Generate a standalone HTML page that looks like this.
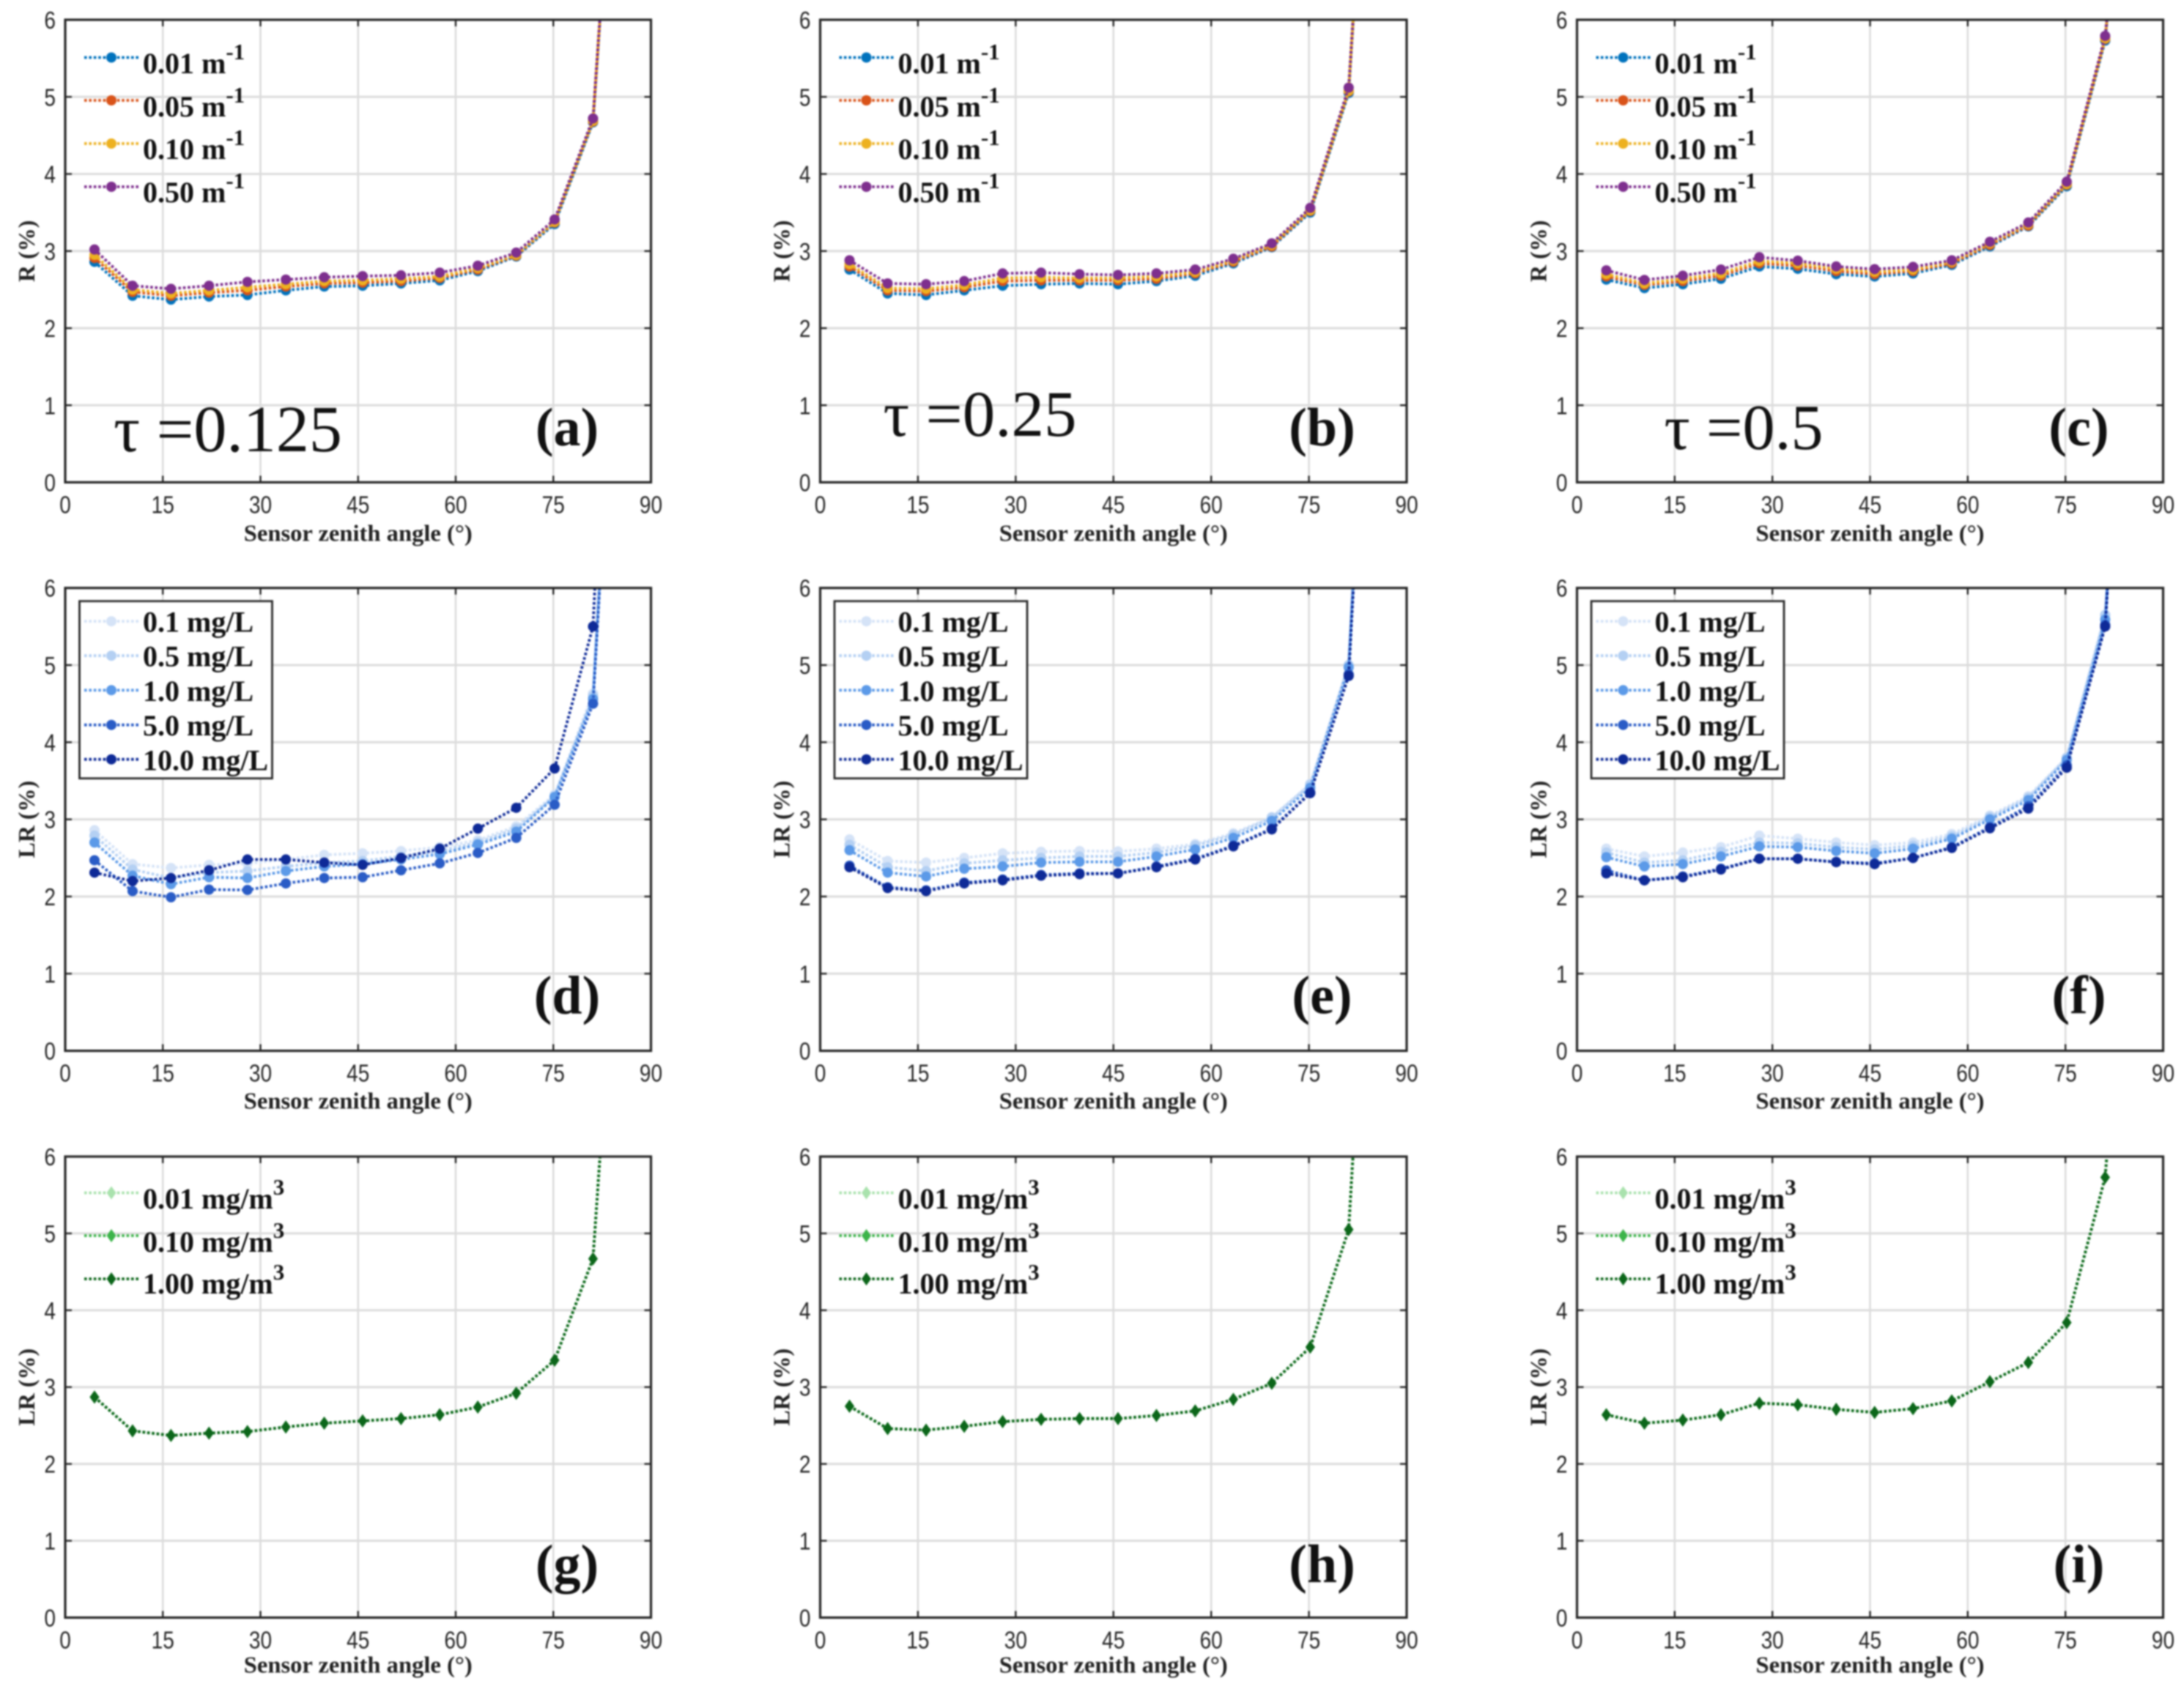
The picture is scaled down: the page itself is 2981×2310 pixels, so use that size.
<!DOCTYPE html>
<html lang="en">
<head>
<meta charset="utf-8">
<title>Sensor zenith angle reflectance panels</title>
<style>
  html, body { margin: 0; padding: 0; background: #fff; }
  body { width: 2981px; height: 2310px; overflow: hidden; }
  #figure { display: block; filter: blur(1px); }
</style>
</head>
<body>
<svg id="figure" xmlns="http://www.w3.org/2000/svg" width="2981" height="2310" viewBox="0 0 2981 2310"></svg>
<script>
const angles = [4.5,10.35,16.25,22.1,28,33.9,39.8,45.7,51.6,57.55,63.4,69.3,75.2,81.1,87];
const xTickValues = [0,15,30,45,60,75,90];
const yTickValues = [0,1,2,3,4,5,6];

const a001 = [2.86,2.42,2.37,2.41,2.43,2.49,2.54,2.55,2.58,2.62,2.74,2.93,3.35,4.67,12];
const a005 = [2.91,2.47,2.42,2.46,2.49,2.54,2.58,2.59,2.61,2.65,2.76,2.94,3.37,4.68,12];
const a010 = [2.95,2.50,2.45,2.49,2.53,2.57,2.61,2.62,2.64,2.67,2.78,2.95,3.38,4.69,12];
const a050 = [3.02,2.55,2.51,2.55,2.60,2.63,2.66,2.675,2.685,2.72,2.81,2.98,3.41,4.72,12];

const b001 = [2.76,2.45,2.43,2.49,2.55,2.57,2.58,2.57,2.61,2.68,2.84,3.05,3.50,5.05,13];
const b005 = [2.80,2.49,2.48,2.53,2.61,2.62,2.62,2.62,2.64,2.71,2.86,3.06,3.52,5.07,13];
const b010 = [2.83,2.52,2.51,2.56,2.65,2.66,2.65,2.65,2.67,2.73,2.88,3.08,3.53,5.08,13];
const b050 = [2.88,2.58,2.57,2.61,2.71,2.72,2.70,2.69,2.71,2.76,2.90,3.10,3.56,5.12,13];

const c001 = [2.63,2.52,2.57,2.64,2.80,2.77,2.70,2.67,2.71,2.82,3.06,3.32,3.84,5.73,11];
const c005 = [2.67,2.56,2.61,2.68,2.84,2.81,2.74,2.70,2.74,2.84,3.08,3.33,3.86,5.75,11];
const c010 = [2.70,2.58,2.64,2.71,2.87,2.84,2.77,2.73,2.76,2.86,3.10,3.35,3.87,5.76,11];
const c050 = [2.75,2.625,2.68,2.76,2.92,2.875,2.80,2.765,2.795,2.88,3.12,3.37,3.90,5.79,11];

const d01 = [2.86,2.42,2.37,2.41,2.43,2.48,2.54,2.56,2.59,2.64,2.73,2.91,3.32,4.63,13.4];
const d05 = [2.79,2.35,2.24,2.31,2.33,2.39,2.44,2.46,2.52,2.59,2.70,2.88,3.30,4.60,13.4];
const d1 = [2.70,2.27,2.16,2.25,2.24,2.33,2.39,2.42,2.48,2.55,2.675,2.84,3.29,4.56,13.3];
const d5 = [2.47,2.07,1.99,2.09,2.085,2.17,2.24,2.25,2.34,2.43,2.565,2.76,3.19,4.50,13.2];
const d10 = [2.31,2.20,2.24,2.34,2.48,2.48,2.44,2.41,2.50,2.62,2.88,3.15,3.66,5.50,16];

const e01 = [2.74,2.46,2.44,2.50,2.56,2.58,2.59,2.585,2.62,2.68,2.82,3.03,3.46,5.00,14.4];
const e05 = [2.67,2.38,2.33,2.43,2.47,2.50,2.52,2.52,2.57,2.66,2.80,3.02,3.45,5.00,14.4];
const e1 = [2.60,2.31,2.26,2.36,2.39,2.44,2.45,2.45,2.52,2.61,2.76,2.98,3.41,4.97,14.4];
const e5 = [2.40,2.12,2.08,2.18,2.22,2.28,2.30,2.30,2.39,2.49,2.66,2.88,3.35,4.88,14.3];
const e10 = [2.38,2.11,2.07,2.17,2.21,2.27,2.29,2.30,2.38,2.48,2.65,2.87,3.34,4.86,14.2];

const f01 = [2.62,2.52,2.57,2.64,2.79,2.75,2.70,2.665,2.70,2.81,3.05,3.30,3.80,5.65,13.7];
const f05 = [2.57,2.44,2.47,2.58,2.70,2.69,2.64,2.61,2.66,2.78,3.03,3.28,3.80,5.65,13.7];
const f1 = [2.51,2.39,2.42,2.52,2.65,2.64,2.59,2.56,2.62,2.75,3.00,3.25,3.77,5.59,13.7];
const f5 = [2.34,2.21,2.26,2.36,2.49,2.49,2.45,2.43,2.50,2.64,2.90,3.17,3.70,5.52,13.6];
const f10 = [2.30,2.21,2.25,2.35,2.49,2.49,2.445,2.42,2.50,2.63,2.885,3.14,3.67,5.50,13.6];

const g001 = [2.87,2.43,2.37,2.40,2.42,2.48,2.53,2.56,2.59,2.64,2.74,2.92,3.35,4.67,12];
const g010 = [2.87,2.43,2.37,2.40,2.42,2.48,2.53,2.56,2.59,2.64,2.74,2.92,3.35,4.67,12];
const g100 = [2.87,2.43,2.37,2.40,2.42,2.48,2.53,2.56,2.59,2.64,2.74,2.92,3.35,4.67,12];

const h001 = [2.75,2.46,2.44,2.49,2.55,2.58,2.59,2.59,2.63,2.69,2.84,3.05,3.52,5.05,13.6];
const h010 = [2.75,2.46,2.44,2.49,2.55,2.58,2.59,2.59,2.63,2.69,2.84,3.05,3.52,5.05,13.6];
const h100 = [2.75,2.46,2.44,2.49,2.55,2.58,2.59,2.59,2.63,2.69,2.84,3.05,3.52,5.05,13.6];

const i001 = [2.64,2.53,2.57,2.64,2.79,2.77,2.71,2.67,2.72,2.82,3.07,3.32,3.84,5.73,12.2];
const i010 = [2.64,2.53,2.57,2.64,2.79,2.77,2.71,2.67,2.72,2.82,3.07,3.32,3.84,5.73,12.2];
const i100 = [2.64,2.53,2.57,2.64,2.79,2.77,2.71,2.67,2.72,2.82,3.07,3.32,3.84,5.73,12.2];

const attenuationLabels = ['0.01 m','0.05 m','0.10 m','0.50 m'];
const sedimentLabels = ['0.1 mg/L','0.5 mg/L','1.0 mg/L','5.0 mg/L','10.0 mg/L'];
const chlorophyllLabels = ['0.01 mg/m','0.10 mg/m','1.00 mg/m'];
const attenuationColors = ['#0072bd','#d95319','#edb120','#7e2f8e'];
const sedimentColors = ['#d5e3f7','#b4d0f3','#5c9ae8','#2a5cc6','#0e2a97'];
const chlorophyllColors = ['#a9e2ad','#3cb44a','#0c661a'];

const colLeft = [89,1119.5,2152.5];
const colRight = [888.5,1920,2952.5];
const rowTop = [27,802.7,1579];
const rowBottom = [658.5,1434.6,2208.4];
const xTitleOffset = [80,79,75];

const panels = [
  {id:'a',col:0,row:0,yTitle:'R (%)',series:[a001,a005,a010,a050],tau:'τ =0.125',tauX:66,tauY:589,tauSize:90},
  {id:'b',col:1,row:0,yTitle:'R (%)',series:[b001,b005,b010,b050],tau:'τ =0.25',tauX:86,tauY:568,tauSize:89},
  {id:'c',col:2,row:0,yTitle:'R (%)',series:[c001,c005,c010,c050],tau:'τ =0.5',tauX:119,tauY:586,tauSize:88},
  {id:'d',col:0,row:1,yTitle:'LR (%)',series:[d01,d05,d1,d5,d10]},
  {id:'e',col:1,row:1,yTitle:'LR (%)',series:[e01,e05,e1,e5,e10]},
  {id:'f',col:2,row:1,yTitle:'LR (%)',series:[f01,f05,f1,f5,f10]},
  {id:'g',col:0,row:2,yTitle:'LR (%)',series:[g001,g010,g100]},
  {id:'h',col:1,row:2,yTitle:'LR (%)',series:[h001,h010,h100]},
  {id:'i',col:2,row:2,yTitle:'LR (%)',series:[i001,i010,i100]}
];

const NS = 'http://www.w3.org/2000/svg';
const SANS = '"Liberation Sans", Arial, sans-serif';
const SERIF = '"Liberation Serif", "Times New Roman", serif';
const root = document.getElementById('figure');

function mk(tag, attrs, parent) {
  const el = document.createElementNS(NS, tag);
  for (const k in attrs) el.setAttribute(k, attrs[k]);
  parent.appendChild(el);
  return el;
}

function drawMarker(group, cx, cy, color, diamond) {
  let el;
  if (diamond) {
    el = mk('polygon', {points:(cx-6.5)+','+cy+' '+cx+','+(cy-9)+' '+(cx+6.5)+','+cy+' '+cx+','+(cy+9), fill:color}, group);
  } else {
    el = mk('circle', {cx:cx, cy:cy, r:7, fill:color}, group);
  }
  
  
}

function drawPanel(p) {
  const L = colLeft[p.col], R = colRight[p.col], T = rowTop[p.row], B = rowBottom[p.row];
  const sx = v => L + (v / 90) * (R - L);
  const sy = v => B - (v / 6) * (B - T);
  const g = mk('g', {}, root);
  
  

  const clip = mk('clipPath', {id:'clip-' + p.id}, g);
  mk('rect', {x:L, y:T, width:R-L, height:B-T}, clip);

  xTickValues.forEach(v => {
    if (v > 0 && v < 90) {
      const gl = mk('line', {x1:sx(v), x2:sx(v), y1:T, y2:B, stroke:'#dcdcdc', 'stroke-width':2.6}, g);
      
      
    }
  });
  yTickValues.forEach(v => {
    if (v > 0 && v < 6) {
      const gl = mk('line', {x1:L, x2:R, y1:sy(v), y2:sy(v), stroke:'#dcdcdc', 'stroke-width':3}, g);
      
      
    }
  });

  const colors = p.row === 0 ? attenuationColors : p.row === 1 ? sedimentColors : chlorophyllColors;
  const labels = p.row === 0 ? attenuationLabels : p.row === 1 ? sedimentLabels : chlorophyllLabels;
  const diamond = p.row === 2;

  const plot = mk('g', {'clip-path':'url(#clip-' + p.id + ')'}, g);
  
  
  p.series.forEach((vals, si) => {
    const pts = vals.map((v, i) => sx(angles[i]).toFixed(1) + ',' + sy(v).toFixed(1)).join(' ');
    const line = mk('polyline', {points:pts, fill:'none', stroke:colors[si], 'stroke-width':3.8, 'stroke-dasharray':'3.6 2.8'}, plot);
    
    
    vals.forEach((v, i) => drawMarker(plot, sx(angles[i]), sy(v), colors[si], diamond));
  });

  const box = mk('rect', {x:L, y:T, width:R-L, height:B-T, fill:'none', stroke:'#262626', 'stroke-width':3.2}, g);
  
  

  xTickValues.forEach(v => {
    const t1 = mk('line', {x1:sx(v), x2:sx(v), y1:B, y2:B-9, stroke:'#262626', 'stroke-width':2.4}, g);
    
    
    const t2 = mk('line', {x1:sx(v), x2:sx(v), y1:T, y2:T+9, stroke:'#262626', 'stroke-width':2.4}, g);
    
    
    const s = String(v);
    const tx = mk('text', {x:sx(v), y:B+42, 'text-anchor':'middle', 'font-family':SANS, 'font-size':33, fill:'#262626', textLength:s.length*15.6, lengthAdjust:'spacingAndGlyphs'}, g);
    tx.textContent = s;
    
    
  });
  yTickValues.forEach(v => {
    const t1 = mk('line', {x1:L, x2:L+9, y1:sy(v), y2:sy(v), stroke:'#262626', 'stroke-width':2.4}, g);
    
    
    const t2 = mk('line', {x1:R, x2:R-9, y1:sy(v), y2:sy(v), stroke:'#262626', 'stroke-width':2.4}, g);
    
    
    const tx = mk('text', {x:L-13, y:sy(v)+12, 'text-anchor':'end', 'font-family':SANS, 'font-size':33, fill:'#262626', textLength:15.6, lengthAdjust:'spacingAndGlyphs'}, g);
    tx.textContent = String(v);
    
    
  });

  const xt = mk('text', {x:(L+R)/2, y:B+xTitleOffset[p.row], 'text-anchor':'middle', 'font-family':SERIF, 'font-weight':'bold', 'font-size':32, fill:'#222', textLength:312, lengthAdjust:'spacingAndGlyphs'}, g);
  xt.textContent = 'Sensor zenith angle (°)';
  
  

  const yc = (T+B)/2;
  const yt = mk('text', {x:L-42, y:yc, 'text-anchor':'middle', 'font-family':SERIF, 'font-weight':'bold', 'font-size':32, fill:'#222', transform:'rotate(-90 ' + (L-42) + ' ' + yc + ')'}, g);
  yt.textContent = p.yTitle;
  
  

  const leg = mk('g', {}, g);
  
  
  if (p.row === 1) {
    const lb = mk('rect', {x:L+19.5, y:T+18, width:263, height:242, fill:'#fff', stroke:'#2b2b2b', 'stroke-width':2.8}, leg);
    
    
  }
  const rowLine = p.row === 0 ? [51.5,110,169,228] : p.row === 1 ? [45.5,92.5,139.6,187,234] : [49.5,108,167];
  const rowText = p.row === 0 ? [73,132,190,249] : p.row === 1 ? [60,107,154.5,201.5,249] : [71,130,187];
  labels.forEach((lab, i) => {
    const ly = T + rowLine[i];
    const ln = mk('line', {x1:L+26, x2:L+100, y1:ly, y2:ly, stroke:colors[i], 'stroke-width':3.8, 'stroke-dasharray':'3.6 2.8'}, leg);
    
    
    drawMarker(leg, L+63, ly, colors[i], diamond);
    const tx = mk('text', {x:L+106, y:T+rowText[i], 'font-family':SERIF, 'font-weight':'bold', 'font-size':40, fill:'#111'}, leg);
    
    
    tx.appendChild(document.createTextNode(lab));
    if (p.row !== 1) {
      const sup = mk('tspan', {dy:-19, 'font-size':31}, tx);
      sup.textContent = p.row === 0 ? '-1' : '3';
    }
  });

  if (p.tau) {
    const tau = mk('text', {x:L+p.tauX, y:T+p.tauY, 'font-family':SERIF, 'font-size':p.tauSize, fill:'#111'}, g);
    tau.textContent = p.tau;
    
    
  }

  const letter = mk('text', {x:L+685, y:T+581, 'text-anchor':'middle', 'font-family':SERIF, 'font-weight':'bold', 'font-size':74, fill:'#111'}, g);
  letter.textContent = '(' + p.id + ')';
  
  
}

panels.forEach(drawPanel);
</script>
</body>
</html>
